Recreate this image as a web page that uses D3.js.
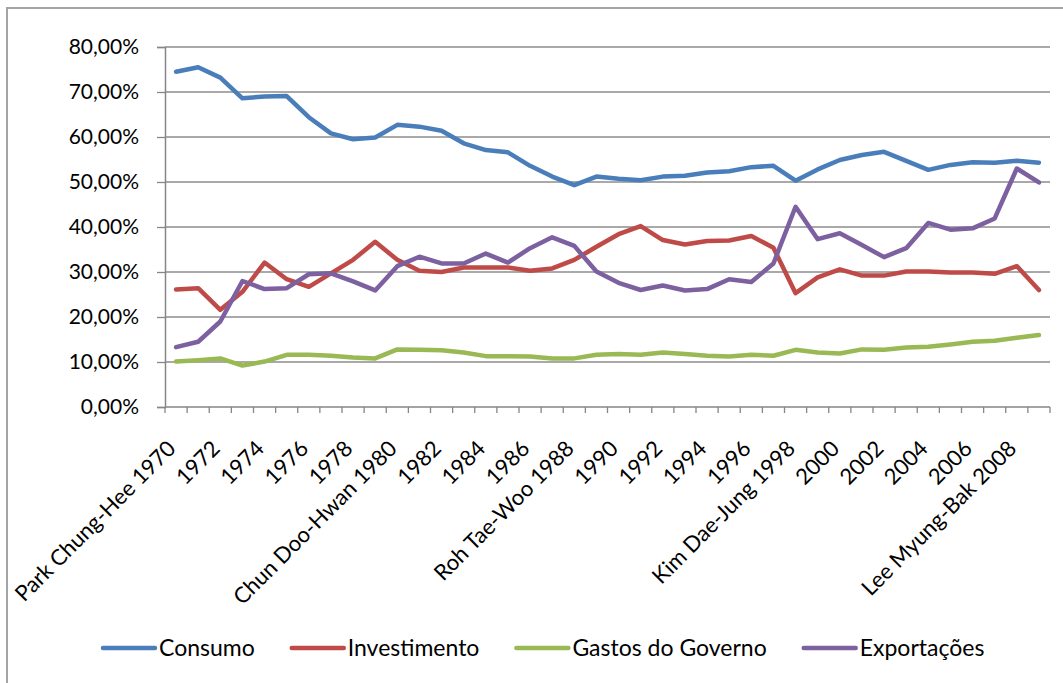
<!DOCTYPE html>
<html>
<head>
<meta charset="utf-8">
<script src="https://cdn.jsdelivr.net/npm/d3@7/dist/d3.min.js"></script>
<style>
  html, body { margin: 0; padding: 0; background: #ffffff; }
  svg { display: block; font-family: Lato, "Open Sans", sans-serif; }
</style>
</head>
<body>
<svg id="chart" width="1063" height="683"></svg>
<script>
// Composição do PIB da Coreia do Sul (% do PIB), 1970–2009
const years = [1970,1971,1972,1973,1974,1975,1976,1977,1978,1979,
               1980,1981,1982,1983,1984,1985,1986,1987,1988,1989,
               1990,1991,1992,1993,1994,1995,1996,1997,1998,1999,
               2000,2001,2002,2003,2004,2005,2006,2007,2008,2009];

const consumo = [74.5,75.5,73.2,68.6,69.0,69.1,64.4,60.8,59.5,59.9,
                 62.7,62.3,61.4,58.6,57.1,56.6,53.6,51.2,49.3,51.2,
                 50.7,50.4,51.2,51.4,52.1,52.4,53.3,53.6,50.3,52.8,
                 54.9,56.0,56.7,54.7,52.7,53.8,54.4,54.3,54.7,54.3];

const investimento = [26.1,26.4,21.6,25.6,32.1,28.4,26.7,29.7,32.7,36.7,
                      32.7,30.3,30.0,31.0,31.0,31.0,30.3,30.8,32.7,35.6,
                      38.4,40.2,37.1,36.1,36.9,37.0,38.0,35.4,25.3,28.8,
                      30.6,29.2,29.2,30.1,30.1,29.9,29.9,29.6,31.3,26.0];

const gastos = [10.1,10.4,10.8,9.2,10.1,11.6,11.6,11.4,11.0,10.8,
                12.8,12.7,12.6,12.1,11.3,11.3,11.2,10.8,10.8,11.6,
                11.8,11.6,12.1,11.8,11.4,11.2,11.6,11.4,12.7,12.1,
                11.9,12.8,12.7,13.2,13.4,13.9,14.5,14.7,15.4,16.0];

const exportacoes = [13.3,14.5,19.0,28.0,26.2,26.4,29.5,29.7,27.9,25.9,
                     31.3,33.4,31.9,31.9,34.1,32.1,35.3,37.7,35.8,30.1,
                     27.6,26.0,27.0,25.9,26.2,28.4,27.8,31.9,44.5,37.3,
                     38.6,36.0,33.3,35.3,40.9,39.4,39.7,41.9,53.0,49.9];

// Rótulos do eixo X (um a cada dois anos, com o presidente no início de cada mandato)
const tickYears  = [1970,1972,1974,1976,1978,1980,1982,1984,1986,1988,
                    1990,1992,1994,1996,1998,2000,2002,2004,2006,2008];
const tickLabels = ["Park Chung-Hee 1970","1972","1974","1976","1978",
                    "Chun Doo-Hwan 1980","1982","1984","1986","Roh Tae-Woo 1988",
                    "1990","1992","1994","1996","Kim Dae-Jung 1998",
                    "2000","2002","2004","2006","Lee Myung-Bak 2008"];

const yTicks = [0,10,20,30,40,50,60,70,80];

const seriesNames  = ["Consumo","Investimento","Gastos do Governo","Exportações"];
const seriesValues = [consumo, investimento, gastos, exportacoes];
const seriesColors = ["#4a7ebb","#be4b48","#98b954","#7d60a0"];

const svg = d3.select("#chart");
const FONT_Y = 21, FONT_X = 22, FONT_LEGEND = 23;

// Moldura do gráfico
svg.append("rect")
  .attr("x", 7).attr("y", 8)
  .attr("width", 1100).attr("height", 720)
  .attr("fill", "#ffffff")
  .attr("stroke", "#a5a5a5").attr("stroke-width", 2);

const plotLeft = 165, plotRight = 1050, plotTop = 47, plotBottom = 407;

const x = d3.scaleBand().domain(years).range([plotLeft, plotRight]).padding(0);
const y = d3.scaleLinear().domain([0, 80]).range([plotBottom, plotTop]);
const cx = d => x(d) + x.bandwidth() / 2;

const fmt = v => v.toFixed(2).replace(".", ",") + "%";

// Linhas de grade horizontais
svg.append("g")
  .selectAll("line")
  .data(yTicks.filter(v => v > 0))
  .join("line")
  .attr("x1", plotLeft).attr("x2", plotRight)
  .attr("y1", d => y(d)).attr("y2", d => y(d))
  .attr("stroke", "#8c8c8c").attr("stroke-width", 1.3);

// Eixo Y
const yAxis = d3.axisLeft(y).tickValues(yTicks).tickFormat(fmt).tickSize(8).tickPadding(18);
const gy = svg.append("g").attr("transform", `translate(${plotLeft},0)`).call(yAxis);
gy.select(".domain").attr("stroke", "#868686").attr("stroke-width", 1.5);
gy.selectAll(".tick line").attr("stroke", "#868686").attr("stroke-width", 1.3);
gy.selectAll(".tick text")
  .attr("font-size", FONT_Y).attr("font-family", "Lato, sans-serif")
  .attr("fill", "#000000");

// Eixo X: marcas nos limites de cada categoria
const gx = svg.append("g");
gx.append("line")
  .attr("x1", plotLeft).attr("x2", plotRight)
  .attr("y1", plotBottom).attr("y2", plotBottom)
  .attr("stroke", "#868686").attr("stroke-width", 1.5);
const boundaries = years.map(d => x(d)).concat([x(years[years.length - 1]) + x.bandwidth()]);
gx.selectAll("line.tick")
  .data(boundaries)
  .join("line")
  .attr("class", "tick")
  .attr("x1", d => d).attr("x2", d => d)
  .attr("y1", plotBottom).attr("y2", plotBottom + 6)
  .attr("stroke", "#868686").attr("stroke-width", 1.3);

// Rótulos rotacionados do eixo X
gx.selectAll("text")
  .data(tickYears.map((yr, i) => ({ yr, label: tickLabels[i] })))
  .join("text")
  .attr("transform", d => `translate(${cx(d.yr) + 1},450) rotate(-45)`)
  .attr("text-anchor", "end")
  .attr("font-size", FONT_X)
  .attr("fill", "#000000")
  .text(d => d.label);

// Séries
const line = d3.line()
  .x((d, i) => cx(years[i]))
  .y(d => y(d));

svg.append("g")
  .selectAll("path")
  .data(seriesValues)
  .join("path")
  .attr("d", d => line(d))
  .attr("fill", "none")
  .attr("stroke", (d, i) => seriesColors[i])
  .attr("stroke-width", 4.5)
  .attr("stroke-linejoin", "round")
  .attr("stroke-linecap", "round");

// Legenda
const legend = svg.append("g");
let lx = 103;
const ly = 648;
seriesNames.forEach((name, i) => {
  legend.append("line")
    .attr("x1", lx).attr("x2", lx + 52)
    .attr("y1", ly).attr("y2", ly)
    .attr("stroke", seriesColors[i]).attr("stroke-width", 4.5)
    .attr("stroke-linecap", "round");
  const t = legend.append("text")
    .attr("x", lx + 56).attr("y", ly + 8)
    .attr("font-size", FONT_LEGEND)
    .attr("fill", "#000000")
    .text(name);
  const w = t.node().getComputedTextLength();
  lx = lx + 56 + w + 37;
});
</script>
</body>
</html>
